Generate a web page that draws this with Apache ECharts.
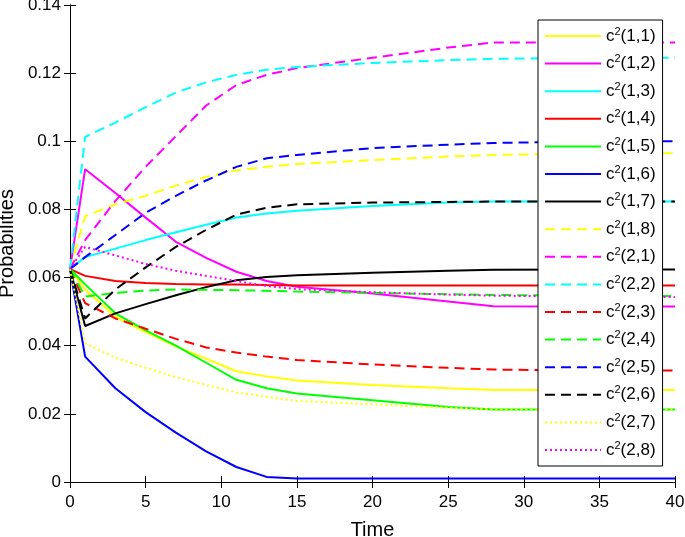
<!DOCTYPE html>
<html>
<head>
<meta charset="utf-8">
<title>Probabilities</title>
<script src="https://cdn.jsdelivr.net/npm/echarts@6/dist/echarts.min.js"></script>
<style>
  html, body { margin: 0; padding: 0; background: #fff; }
  #chart { width: 685px; height: 537px; }
</style>
</head>
<body>
<div id="chart"></div>
<script>
(function() {
    'use strict';

    var times = [0, 1, 3, 5, 7, 9, 11, 13, 15, 20, 25, 28, 34, 40];
    var xTicks = [0, 5, 10, 15, 20, 25, 30, 35, 40];
    var yTicks = [0, 0.02, 0.04, 0.06, 0.08, 0.1, 0.12, 0.14];

    var c11 = [0.0625, 0.0565, 0.0485, 0.044, 0.0398, 0.0362, 0.0325, 0.031, 0.0298, 0.0285, 0.0275, 0.027, 0.027, 0.027];
    var c12 = [0.0625, 0.0918, 0.0848, 0.0776, 0.0705, 0.0658, 0.0617, 0.059, 0.0573, 0.0553, 0.053, 0.0516, 0.0515, 0.0515];
    var c13 = [0.0625, 0.066, 0.0685, 0.071, 0.0733, 0.0755, 0.0776, 0.0788, 0.0796, 0.081, 0.082, 0.0823, 0.0823, 0.0823];
    var c14 = [0.0625, 0.0605, 0.059, 0.0584, 0.0581, 0.058, 0.058, 0.0578, 0.0577, 0.0577, 0.0577, 0.0577, 0.0577, 0.0577];
    var c15 = [0.0625, 0.058, 0.0495, 0.0445, 0.04, 0.035, 0.03, 0.0275, 0.026, 0.024, 0.022, 0.0213, 0.0213, 0.0213];
    var c16 = [0.0625, 0.0368, 0.0275, 0.0205, 0.0145, 0.009, 0.0044, 0.0015, 0.001, 0.001, 0.001, 0.001, 0.001, 0.001];
    var c17 = [0.0625, 0.0458, 0.0495, 0.0522, 0.0548, 0.0572, 0.0592, 0.0602, 0.0607, 0.0614, 0.062, 0.0623, 0.0624, 0.0624];
    var c18 = [0.0625, 0.078, 0.0815, 0.084, 0.087, 0.0895, 0.0915, 0.0925, 0.0933, 0.0945, 0.0955, 0.096, 0.0964, 0.0965];
    var c21 = [0.0625, 0.071, 0.0825, 0.0925, 0.1015, 0.1105, 0.1165, 0.1195, 0.1215, 0.1245, 0.1275, 0.129, 0.129, 0.129];
    var c22 = [0.0625, 0.1013, 0.1055, 0.11, 0.1143, 0.1173, 0.1195, 0.121, 0.1218, 0.123, 0.1238, 0.1242, 0.1245, 0.1245];
    var c23 = [0.0625, 0.0525, 0.048, 0.045, 0.042, 0.0395, 0.038, 0.0368, 0.0358, 0.0345, 0.0335, 0.033, 0.0327, 0.0327];
    var c24 = [0.0625, 0.0544, 0.0555, 0.0562, 0.0565, 0.0564, 0.0563, 0.0561, 0.0559, 0.0555, 0.0551, 0.0549, 0.0547, 0.0546];
    var c25 = [0.0625, 0.066, 0.0725, 0.079, 0.084, 0.0885, 0.0925, 0.095, 0.096, 0.098, 0.099, 0.0995, 0.0999, 0.1];
    var c26 = [0.0625, 0.048, 0.0565, 0.063, 0.069, 0.074, 0.0785, 0.0805, 0.0815, 0.082, 0.0822, 0.0823, 0.0823, 0.0823];
    var c27 = [0.0625, 0.0407, 0.0365, 0.0335, 0.0308, 0.0285, 0.0263, 0.025, 0.0238, 0.0228, 0.0218, 0.0213, 0.0213, 0.0213];
    var c28 = [0.0625, 0.069, 0.0665, 0.064, 0.062, 0.0605, 0.059, 0.0575, 0.0566, 0.0557, 0.055, 0.0547, 0.0544, 0.0543];

    var names = ['c²(1,1)', 'c²(1,2)', 'c²(1,3)', 'c²(1,4)', 'c²(1,5)', 'c²(1,6)', 'c²(1,7)', 'c²(1,8)',
                 'c²(2,1)', 'c²(2,2)', 'c²(2,3)', 'c²(2,4)', 'c²(2,5)', 'c²(2,6)', 'c²(2,7)', 'c²(2,8)'];
    var values = [c11, c12, c13, c14, c15, c16, c17, c18, c21, c22, c23, c24, c25, c26, c27, c28];

    var colors = ['#ffff00', '#ff00ff', '#00ffff', '#ff0000', '#00ff00', '#0000ff', '#000000'];
    var font = 'Liberation Sans, Arial, Helvetica, sans-serif';

    function pairs(vals) {
        var out = [];
        for (var i = 0; i < times.length; i++) {
            out.push([times[i], vals[i]]);
        }
        return out;
    }

    // 1-7 solid, 8-14 dashed, 15-16 dotted; colours cycle like matlab
    function styleFor(i) {
        var type = 'solid';
        if (i >= 7 && i <= 13) {
            type = [10, 6];
        } else if (i >= 14) {
            type = [2, 3];
        }
        return { color: colors[i % 7], width: 2, type: type };
    }

    var series = [];
    for (var i = 0; i < names.length; i++) {
        var ls = styleFor(i);
        series.push({
            name: names[i],
            type: 'line',
            data: pairs(values[i]),
            symbol: 'none',
            smooth: false,
            color: ls.color,
            lineStyle: ls,
            animation: false
        });
    }

    var myChart = echarts.init(document.getElementById('chart'));
    myChart.setOption({
        backgroundColor: '#fff',
        animation: false,
        grid: { left: 70, right: 10, top: 5, bottom: 55, containLabel: false, outerBoundsMode: 'none' },
        legend: {
            orient: 'vertical',
            left: 538,
            top: 20,
            padding: [6, 7, 6, 6],
            itemWidth: 56,
            itemHeight: 14,
            itemGap: 7.6,
            backgroundColor: '#fff',
            borderColor: '#000',
            borderWidth: 1,
            borderRadius: 0,
            itemStyle: { opacity: 0 },
            data: names,
            formatter: function (name) {
                return 'c{s|2}' + name.slice(2);
            },
            textStyle: {
                fontFamily: font,
                fontSize: 17,
                color: '#000',
                lineHeight: 20,
                rich: {
                    s: { fontFamily: font, fontSize: 11, verticalAlign: 'top', lineHeight: 20, padding: [0, 0, 8, 0] }
                }
            }
        },
        xAxis: [{
            type: 'value',
            min: 0,
            max: 40,
            interval: 5,
            name: 'Time',
            nameLocation: 'middle',
            nameGap: 38,
            nameTextStyle: { fontFamily: font, fontSize: 20, color: '#000' },
            axisLine: { lineStyle: { color: '#000', width: 1 } },
            axisTick: { inside: true, length: 6, lineStyle: { color: '#000' } },
            axisLabel: {
                fontFamily: font, fontSize: 17, color: '#000', margin: 12,
                formatter: function (v) { return xTicks.indexOf(v) >= 0 ? String(v) : ''; }
            },
            splitLine: { show: false }
        }, {
            type: 'value',
            position: 'top',
            min: 0,
            max: 40,
            interval: 5,
            axisLine: { show: true, lineStyle: { color: '#000', width: 1 } },
            axisTick: { show: true, inside: true, length: 6, lineStyle: { color: '#000' } },
            axisLabel: { show: false },
            splitLine: { show: false }
        }],
        yAxis: [{
            type: 'value',
            min: 0,
            max: 0.14,
            interval: 0.02,
            name: 'Probabilities',
            nameLocation: 'middle',
            nameGap: 48,
            nameTextStyle: { fontFamily: font, fontSize: 20, color: '#000' },
            axisLine: { show: true, lineStyle: { color: '#000', width: 1 } },
            axisTick: { show: true, inside: true, length: 6, lineStyle: { color: '#000' } },
            axisLabel: {
                fontFamily: font, fontSize: 17, color: '#000', margin: 9,
                formatter: function (v) {
                    var r = Math.round(v * 100) / 100;
                    return yTicks.indexOf(r) >= 0 ? String(r) : '';
                }
            },
            splitLine: { show: false }
        }, {
            type: 'value',
            position: 'right',
            min: 0,
            max: 0.14,
            interval: 0.02,
            axisLine: { show: true, lineStyle: { color: '#000', width: 1 } },
            axisTick: { show: true, inside: true, length: 6, lineStyle: { color: '#000' } },
            axisLabel: { show: false },
            splitLine: { show: false }
        }],
        series: series
    });
})();
</script>
</body>
</html>
